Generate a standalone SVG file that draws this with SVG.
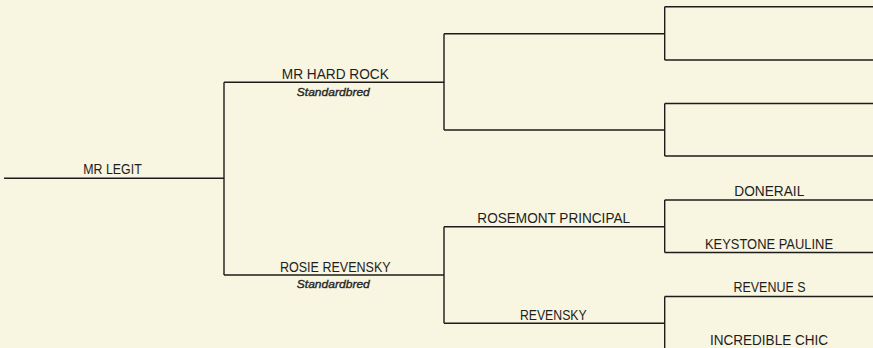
<svg xmlns="http://www.w3.org/2000/svg" width="873" height="348" viewBox="0 0 873 348">
<style>
.ln{stroke:#1c1c1c;stroke-width:1.4;fill:none}
.nm{font-family:"Liberation Sans",Arial,sans-serif;font-size:15.5px;fill:#1e1e1e;text-anchor:middle}
.br{font-family:"Liberation Sans",Arial,sans-serif;font-size:11.5px;font-style:italic;fill:#262626;stroke:#262626;stroke-width:0.35;text-anchor:middle}
</style>
<rect x="0" y="0" width="873" height="348" fill="#F8F5E0"/>
<g id="connectors">
<path class="ln" d="M4 178.3H224"/>
<path class="ln" d="M224 82.3V275"/>
<path class="ln" d="M224 82.3H444M224 275H444"/>
<path class="ln" d="M444 33.7V130M444 226.7V323.3"/>
<path class="ln" d="M444 33.7H664.7M444 130H664.7M444 226.7H664.7M444 323.3H664.7"/>
<path class="ln" d="M664.7 6.7V60M664.7 103.5V156M664.7 200V252.5M664.7 296.5V350"/>
<path class="ln" d="M664.7 6.7H873M664.7 60H873M664.7 103.5H873M664.7 156H873M664.7 200H873M664.7 252.5H873M664.7 296.5H873"/>
</g>
<g id="mr-legit"><text class="nm" x="112.5" y="173.5" textLength="58.4" lengthAdjust="spacingAndGlyphs">MR LEGIT</text></g>
<g id="mr-hard-rock"><text class="nm" x="335.3" y="79" textLength="107" lengthAdjust="spacingAndGlyphs">MR HARD ROCK</text><text class="br" x="333.3" y="95.7" textLength="73" lengthAdjust="spacingAndGlyphs">Standardbred</text></g>
<g id="rosie-revensky"><text class="nm" x="335.3" y="271.7" textLength="110.7" lengthAdjust="spacingAndGlyphs">ROSIE REVENSKY</text><text class="br" x="333.3" y="288.3" textLength="73" lengthAdjust="spacingAndGlyphs">Standardbred</text></g>
<g id="rosemont-principal"><text class="nm" x="553.7" y="222.7" textLength="152.7" lengthAdjust="spacingAndGlyphs">ROSEMONT PRINCIPAL</text></g>
<g id="revensky"><text class="nm" x="553.3" y="319.5" textLength="66.7" lengthAdjust="spacingAndGlyphs">REVENSKY</text></g>
<g id="donerail"><text class="nm" x="769.3" y="196" textLength="70" lengthAdjust="spacingAndGlyphs">DONERAIL</text></g>
<g id="keystone-pauline"><text class="nm" x="769" y="249" textLength="128" lengthAdjust="spacingAndGlyphs">KEYSTONE PAULINE</text></g>
<g id="revenue-s"><text class="nm" x="769.5" y="291.7" textLength="72" lengthAdjust="spacingAndGlyphs">REVENUE S</text></g>
<g id="incredible-chic"><text class="nm" x="769" y="345" textLength="118" lengthAdjust="spacingAndGlyphs">INCREDIBLE CHIC</text></g>
</svg>
